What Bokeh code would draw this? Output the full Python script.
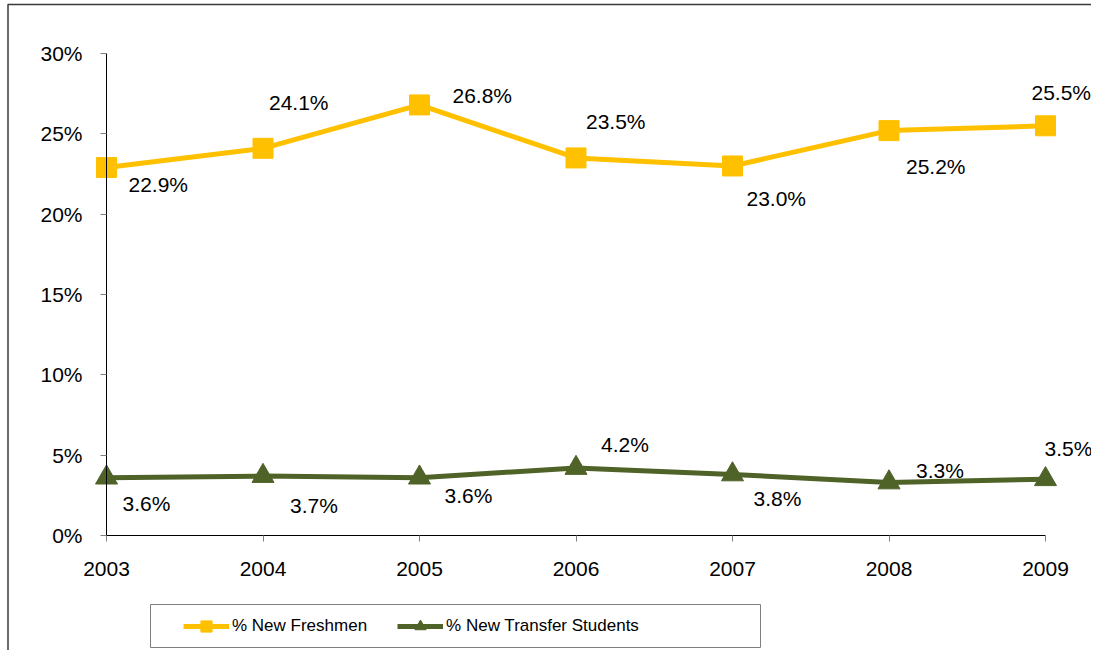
from bokeh.plotting import figure
from bokeh.models import (Range1d, FixedTicker, PrintfTickFormatter, ColumnDataSource,
                          Legend, LegendItem, BoxAnnotation)
from bokeh.embed import file_html
from bokeh.resources import INLINE
from bokeh.core.properties import value

years = [2003, 2004, 2005, 2006, 2007, 2008, 2009]
freshmen = [22.9, 24.1, 26.8, 23.5, 23.0, 25.2, 25.5]
transfer = [3.6, 3.7, 3.6, 4.2, 3.8, 3.3, 3.5]
y_ticks = [0, 5, 10, 15, 20, 25, 30]
series_names = ["% New Freshmen", "% New Transfer Students"]

# label offsets (screen pixels, style only)
fr_dx = [22, 6, 33, 10, 14, 17, -14]
fr_dy = [17, -46, -9, -36, 33, 36, -33]
tr_dx = [16, 27, 25, 25, 21, 27, -1]
tr_dy = [26, 29, 18, -24, 24, -12, -31]

YELLOW = "#FFC000"
GREEN = "#4F6228"
FONT = "Liberation Sans"

W, H = 1091, 650
# pixel placement of the plotting area inside the canvas
x0_px, x1_px = 106, 1045      # first / last year
y0_px, y1_px = 535, 53        # 0% / 30%
ppx = (x1_px - x0_px) / (years[-1] - years[0])
ppy = (y0_px - y1_px) / (y_ticks[-1] - y_ticks[0])
x_start = years[0] - x0_px / ppx
x_end = x_start + W / ppx
y_start = y_ticks[0] - (H - y0_px) / ppy
y_end = y_start + H / ppy

p = figure(width=W, height=H,
           min_border_left=0, min_border_right=0, min_border_top=0, min_border_bottom=0,
           x_range=Range1d(x_start, x_end), y_range=Range1d(y_start, y_end),
           output_backend="svg", toolbar_location=None)
p.outline_line_color = None
p.xgrid.visible = False
p.ygrid.visible = False
p.background_fill_color = "white"
p.border_fill_color = "white"

# axes
p.xaxis.ticker = FixedTicker(ticks=years)
p.xaxis.bounds = (years[0], years[-1])
p.xaxis.fixed_location = y_ticks[0]
p.xaxis.major_label_standoff = 20
p.yaxis.ticker = FixedTicker(ticks=y_ticks)
p.yaxis.formatter = PrintfTickFormatter(format="%d%%")
p.yaxis.bounds = (y_ticks[0], y_ticks[-1])
p.yaxis.fixed_location = years[0]
p.yaxis.major_label_standoff = 18
for ax in (p.xaxis, p.yaxis):
    ax.axis_line_color = "black"
    ax.axis_line_width = 1
    ax.major_tick_line_color = "#808080"
    ax.major_tick_out = 6
    ax.major_tick_in = 0
    ax.minor_tick_line_color = None
    ax.major_label_text_font = FONT
    ax.major_label_text_font_size = "21px"
    ax.major_label_text_color = "black"

src = ColumnDataSource(dict(
    x=years, f=freshmen, t=transfer,
    fl=[f"{v:.1f}%" for v in freshmen], tl=[f"{v:.1f}%" for v in transfer],
    fdx=fr_dx, fdy=fr_dy, tdx=tr_dx, tdy=tr_dy))

l1 = p.line("x", "f", source=src, line_color=YELLOW, line_width=5)
s1 = p.scatter("x", "f", source=src, marker="square", size=20,
               fill_color=YELLOW, line_color=YELLOW)
l2 = p.line("x", "t", source=src, line_color=GREEN, line_width=5)
s2 = p.scatter("x", "t", source=src, marker="triangle", size=22,
               fill_color=GREEN, line_color=GREEN)

p.text("x", "f", text="fl", source=src, x_offset="fdx", y_offset="fdy",
       text_font=value(FONT), text_font_size="21px", text_color="black",
       text_align="left", text_baseline="middle")
p.text("x", "t", text="tl", source=src, x_offset="tdx", y_offset="tdy",
       text_font=value(FONT), text_font_size="21px", text_color="black",
       text_align="left", text_baseline="middle")

legend = Legend(items=[LegendItem(label=series_names[0], renderers=[l1, s1]),
                       LegendItem(label=series_names[1], renderers=[l2, s2])],
                orientation="horizontal", location=(178, 5),
                padding=5, margin=0, spacing=30,
                glyph_width=46, glyph_height=28, label_standoff=3,
                label_text_font=FONT, label_text_font_size="17px",
                label_text_color="black",
                border_line_alpha=0, background_fill_alpha=0)
p.add_layout(legend, "center")

# legend box and outer chart frame
p.add_layout(BoxAnnotation(left=150, right=760, top=604, bottom=647,
                           left_units="canvas", right_units="canvas",
                           top_units="canvas", bottom_units="canvas",
                           fill_alpha=0, line_color="#7f7f7f", line_alpha=1,
                           line_width=1))
p.add_layout(BoxAnnotation(left=7.5, right=1300, top=4, bottom=1000,
                           left_units="canvas", right_units="canvas",
                           top_units="canvas", bottom_units="canvas",
                           fill_alpha=0, line_color="#3a3a3a", line_alpha=1,
                           line_width=1.5))

open("out.html", "w").write(file_html(p, INLINE))
